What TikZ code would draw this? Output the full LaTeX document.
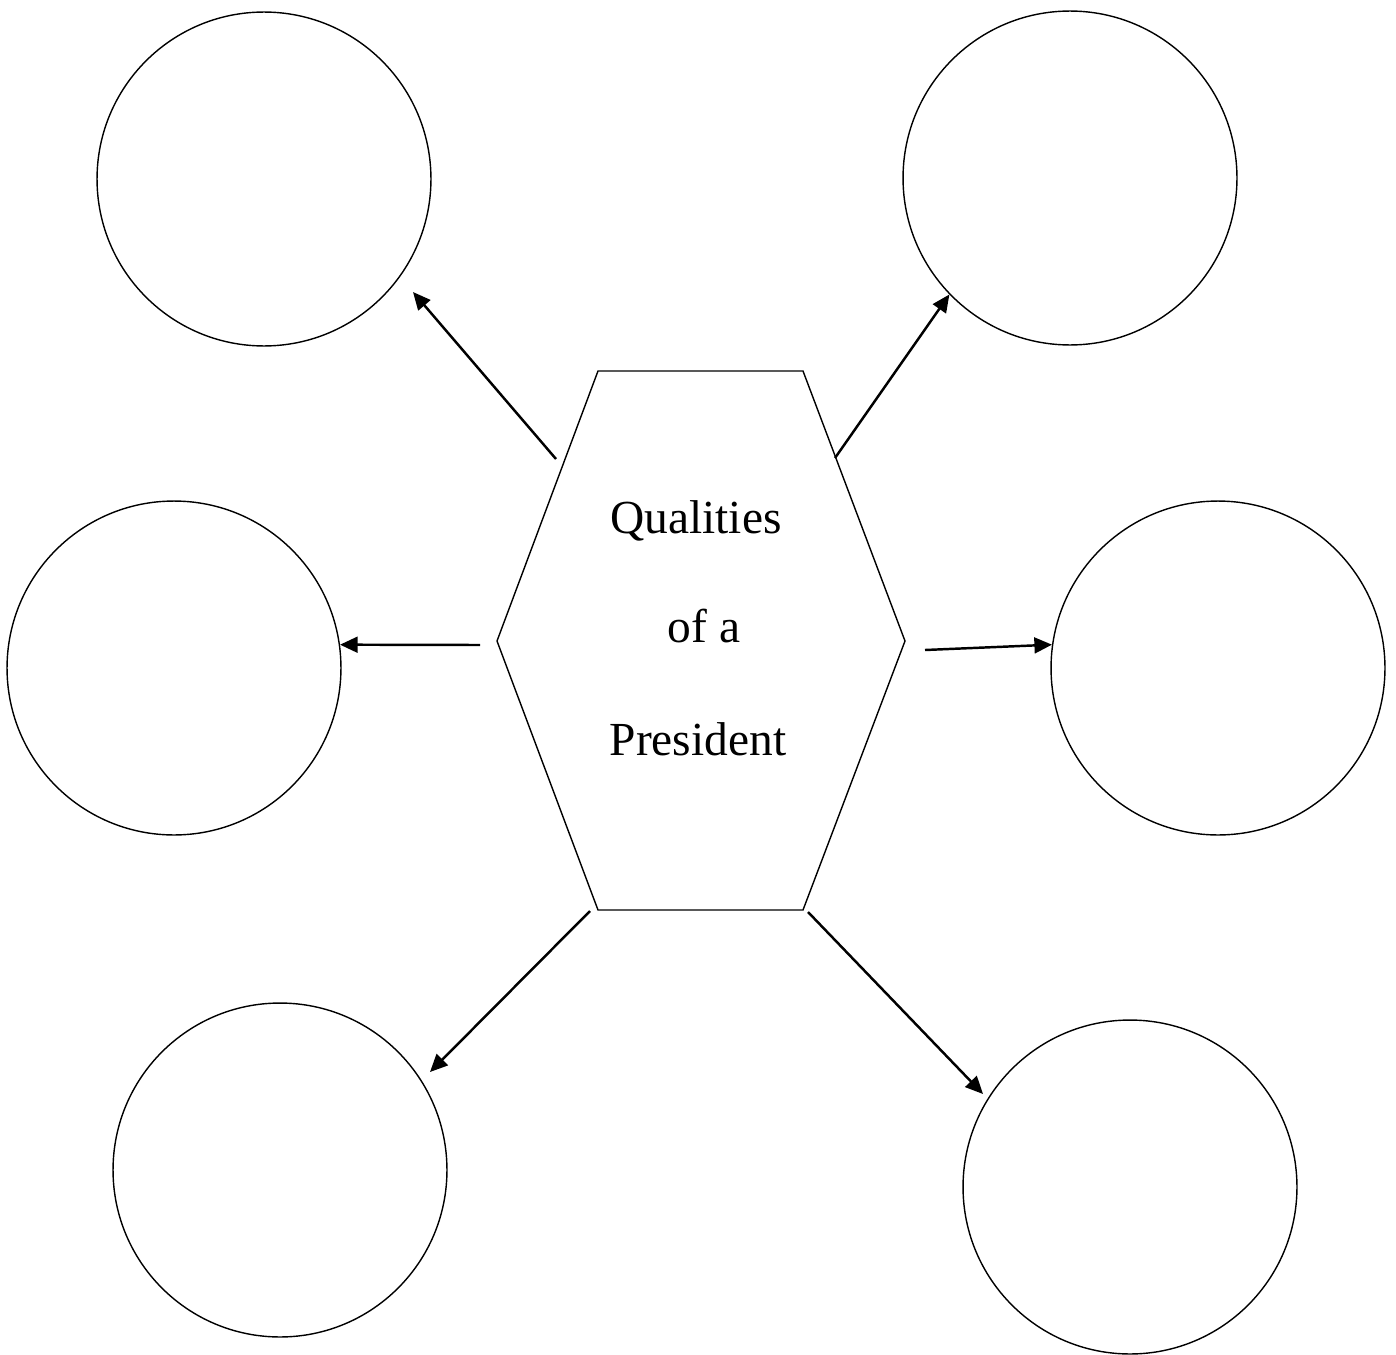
\documentclass[tikz,border=0pt]{standalone}
\usepackage{fontspec}
\setmainfont{Liberation Serif}
\usetikzlibrary{arrows.meta, positioning}

\begin{document}
\begin{tikzpicture}[
    x=0.02cm, y=-0.02cm,
    bubble/.style={circle, draw, line width=0.8pt, minimum size=6.68cm, inner sep=0pt},
    title/.style={font=\fontsize{27}{63}\selectfont, anchor=base, inner sep=0pt},
    arrow/.style={-{Triangle[length=10pt, width=9pt]}, line width=1.4pt}
]
\useasboundingbox (0,0) rectangle (1396,1355);

% Centre hexagon
\draw [line width=0.8pt] (598,371) -- (803,371) -- (905,641) -- (803,910) -- (598,910) -- (497,641) -- cycle;
\node [title] (qual) at (696,533) {Qualities};
\node [title] (ofa) at (698,642) {~of a};
\node [title] (pres) at (698,755) {President};

% Arrow starts on the hexagon
\coordinate (s-tl) at (556,459);
\coordinate (s-tr) at (835,458);
\coordinate (s-ml) at (480,645);
\coordinate (s-mr) at (925,650);
\coordinate (s-bl) at (590,911);
\coordinate (s-br) at (808,912);

% Outer circles
\node [bubble] (tl) at (264,179) {};
\node [bubble] (tr) at (1070,178) {};
\node [bubble] (ml) at (174,668) {};
\node [bubble] (mr) at (1218,668) {};
\node [bubble] (bl) at (280,1170) {};
\node [bubble] (br) at (1130,1187) {};

% Arrow tips left short of some circles
\coordinate (e-tl) at (413,292);
\coordinate (e-bl) at (430,1072);
\coordinate (e-br) at (983,1094);

% Arrows
\draw [arrow] (s-tl) -- (e-tl);
\draw [arrow] (s-tr) -- (tr.224);
\draw [arrow] (s-ml) -- (ml.8);
\draw [arrow] (s-mr) -- (mr.172);
\draw [arrow] (s-bl) -- (e-bl);
\draw [arrow] (s-br) -- (e-br);

\end{tikzpicture}
\end{document}
